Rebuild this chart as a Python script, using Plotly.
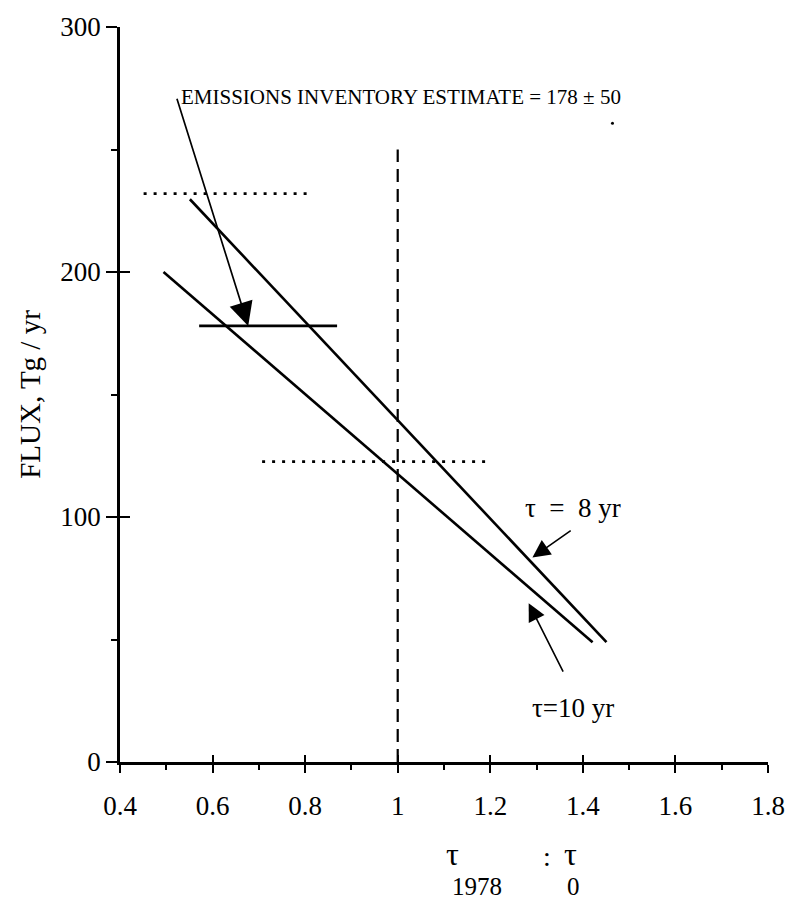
import plotly.graph_objects as go

# ---- data ----
tau8_x = [0.551, 1.451]
tau8_y = [229.7, 48.9]
tau10_x = [0.494, 1.421]
tau10_y = [200.0, 48.9]
inventory_x = [0.571, 0.869]
inventory_y = [178, 178]
upper_x = [0.451, 0.814]
upper_y = [232, 232]
lower_x = [0.707, 1.20]
lower_y = [122.6, 122.6]
ref_x = [1.0, 1.0]
ref_y = [0, 250]
speck_x = [1.464]
speck_y = [260.7]

x_ticks = [0.4, 0.6, 0.8, 1.0, 1.2, 1.4, 1.6, 1.8]
x_ticktext = ["0.4", "0.6", "0.8", "1", "1.2", "1.4", "1.6", "1.8"]
x_minor = [0.5, 0.7, 0.9, 1.1, 1.3, 1.5, 1.7]
y_ticks = [0, 100, 200, 300]
y_ticktext = ["0", "100", "200", "300"]
y_minor = [50, 150, 250]

FONT = "Liberation Serif, Times New Roman, serif"
BLACK = "black"

fig = go.Figure()

def line(x, y, width=2.6, dash="solid"):
    fig.add_trace(go.Scatter(x=x, y=y, mode="lines",
                             line=dict(color=BLACK, width=width, dash=dash),
                             hoverinfo="skip", showlegend=False))

line(tau8_x, tau8_y)
line(tau10_x, tau10_y)
line(inventory_x, inventory_y)
line(upper_x, upper_y, width=2.8, dash="3px,7px")
line(lower_x, lower_y, width=2.8, dash="3px,7px")
line(ref_x, ref_y, width=2.2, dash="13px,7px")
fig.add_trace(go.Scatter(x=speck_x, y=speck_y, mode="markers",
                         marker=dict(color=BLACK, size=3),
                         hoverinfo="skip", showlegend=False))
# dummy trace for the overlay axes (inner halves of crossing ticks)
fig.add_trace(go.Scatter(x=[None], y=[None], xaxis="x2", yaxis="y2",
                         mode="lines", hoverinfo="skip", showlegend=False))

# ---- arrows ----
def arrow(x, y, ax, ay, size=2.2, width=1.6):
    fig.add_annotation(x=x, y=y, ax=ax, ay=ay, xref="x", yref="y",
                       axref="x", ayref="y", text="", showarrow=True,
                       arrowhead=2, arrowsize=size, arrowwidth=width,
                       arrowcolor=BLACK, standoff=0, startstandoff=0)

arrow(0.677, 178, 0.522, 271.3, size=2.8, width=1.7)
arrow(1.291, 83.5, 1.377, 94.9)
arrow(1.283, 64.8, 1.359, 36.3)

# ---- text labels ----
fig.add_annotation(x=0.527, y=271.3, xref="x", yref="y", xanchor="left",
                   yanchor="middle", showarrow=False,
                   text="EMISSIONS INVENTORY ESTIMATE = 178 ± 50",
                   font=dict(family=FONT, size=21, color=BLACK))
fig.add_annotation(x=1.379, y=103.5, xref="x", yref="y", showarrow=False,
                   text="τ  =  8 yr", font=dict(family=FONT, size=27, color=BLACK))
fig.add_annotation(x=1.379, y=22, xref="x", yref="y", showarrow=False,
                   text="τ=10 yr", font=dict(family=FONT, size=27, color=BLACK))

# x-axis title pieces: tau_1978 : tau_0  (upper row bottom-anchored, lower row at the page foot)
upper_row = [("τ", 1.118, 32), (":", 1.322, 28), ("τ", 1.373, 32)]
lower_row = [("1978", 1.172, 25), ("0", 1.380, 25)]
for txt, xx, sz in upper_row:
    fig.add_annotation(x=xx, y=-0.1493, xref="x", yref="paper", showarrow=False,
                       text=txt, xanchor="center", yanchor="bottom",
                       borderpad=0, borderwidth=0,
                       font=dict(family=FONT, size=sz, color=BLACK))
for txt, xx, sz in lower_row:
    fig.add_annotation(x=xx, y=-0.1880, xref="x", yref="paper", showarrow=False,
                       text=txt, xanchor="center", yanchor="bottom",
                       borderpad=0, borderwidth=0,
                       font=dict(family=FONT, size=sz, color=BLACK))

axis_common = dict(showgrid=False, zeroline=False, showline=True,
                   linecolor=BLACK, linewidth=2.5, tickcolor=BLACK,
                   tickwidth=2, tickfont=dict(family=FONT, size=27, color=BLACK))

fig.update_layout(
    width=797, height=901,
    margin=dict(l=120, r=19, t=25, b=139),
    plot_bgcolor="white", paper_bgcolor="white",
    xaxis=dict(range=[0.4, 1.8], tickmode="array", tickvals=x_ticks,
               ticktext=x_ticktext, ticks="outside", ticklen=8,
               ticklabelstandoff=10,
               minor=dict(tickvals=x_minor, ticks="outside", ticklen=5,
                          tickwidth=2, tickcolor=BLACK),
               **axis_common),
    yaxis=dict(range=[0, 300], tickmode="array", tickvals=y_ticks,
               ticktext=y_ticktext, ticks="outside", ticklen=11,
               ticklabelstandoff=0,
               minor=dict(tickvals=y_minor, ticks="outside", ticklen=6,
                          tickwidth=2, tickcolor=BLACK),
               title=dict(text="FLUX, Tg / yr", standoff=12,
                          font=dict(family=FONT, size=29, color=BLACK)),
               **axis_common),
    xaxis2=dict(range=[0.4, 1.8], overlaying="x", anchor="y", side="bottom",
                tickmode="array", tickvals=x_ticks, ticks="inside", ticklen=7,
                tickwidth=2, tickcolor=BLACK, showticklabels=False,
                showline=False, showgrid=False, zeroline=False),
    yaxis2=dict(range=[0, 300], overlaying="y", anchor="x", side="left",
                tickmode="array", tickvals=y_ticks, ticks="inside", ticklen=10,
                tickwidth=2, tickcolor=BLACK, showticklabels=False,
                showline=False, showgrid=False, zeroline=False),
)

fig.write_html("out.html")
